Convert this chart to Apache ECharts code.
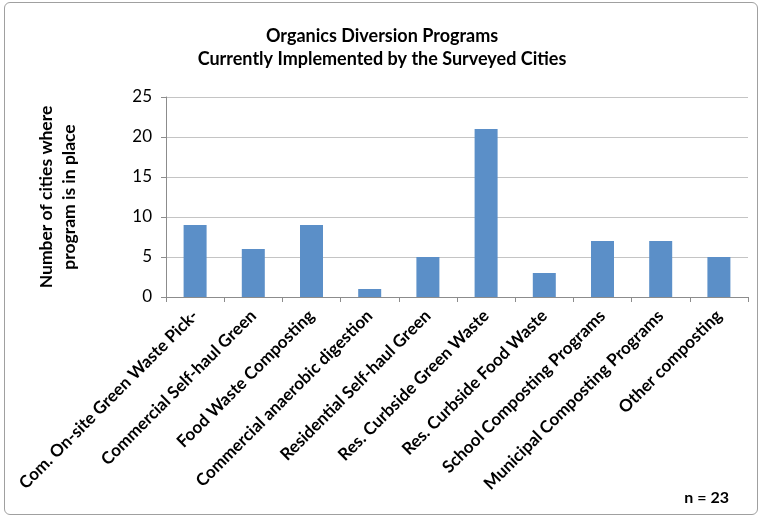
<!DOCTYPE html>
<html>
<head>
<meta charset="utf-8">
<style>
  html, body { margin: 0; padding: 0; background: #fff; }
  #frame { position: absolute; left: 4px; top: 2px; width: 754px; height: 513px;
           border: 1.5px solid #a0a0a0; border-radius: 6px; box-sizing: border-box; }
  #chart { width: 764px; height: 519px; }
</style>
<script src="https://cdn.jsdelivr.net/npm/echarts@6/dist/echarts.min.js"></script>
</head>
<body>
<div id="frame"></div>
<div id="chart"></div>
<script>
// Organics diversion programs in place across surveyed cities
const programs = [
  'Com. On-site Green Waste Pick-',
  'Commercial Self-haul Green',
  'Food Waste Composting',
  'Commercial anaerobic digestion',
  'Residential Self-haul Green',
  'Res. Curbside Green Waste',
  'Res. Curbside Food Waste',
  'School Composting Programs',
  'Municipal Composting Programs',
  'Other composting'
];
const cityCounts = [9, 6, 9, 1, 5, 21, 3, 7, 7, 5];
const titleLines = ['Organics Diversion Programs', 'Currently Implemented by the Surveyed Cities'];
const yAxisTitle = 'Number of cities where\nprogram is in place';
const sampleNote = 'n = 23';

const font = 'Lato, "Open Sans", sans-serif';
const chart = echarts.init(document.getElementById('chart'));
chart.setOption({
  animation: false,
  title: {
    text: titleLines.join('\n'),
    left: 'center',
    top: 20,
    textStyle: { fontFamily: font, fontSize: 18, fontWeight: 'bold', color: '#000', lineHeight: 23 }
  },
  graphic: [{
    type: 'text',
    right: 35,
    top: 490,
    style: { text: sampleNote, fontFamily: font, fontSize: 16, fontWeight: 'bold', fill: '#000' }
  }],
  grid: { left: 166, right: 16, top: 97, bottom: 222, containLabel: false },
  xAxis: {
    type: 'category',
    data: programs,
    axisLine: { lineStyle: { color: '#8c8c8c', width: 1 } },
    axisTick: { show: true, length: 5, lineStyle: { color: '#8c8c8c' } },
    axisLabel: {
      interval: 0, rotate: 45, margin: 16,
      fontFamily: font, fontSize: 17, fontWeight: 'bold', color: '#000'
    }
  },
  yAxis: {
    type: 'value',
    min: 0, max: 25, interval: 5,
    name: yAxisTitle,
    nameLocation: 'middle',
    nameRotate: 90,
    nameGap: 85,
    nameTextStyle: { fontFamily: font, fontSize: 17.5, fontWeight: 'bold', color: '#000', lineHeight: 23 },
    axisLine: { show: true, lineStyle: { color: '#8c8c8c', width: 1 } },
    axisTick: { show: true, length: 5, lineStyle: { color: '#8c8c8c' } },
    splitLine: { lineStyle: { color: '#c4c4c4', width: 1 } },
    axisLabel: { margin: 14, fontFamily: font, fontSize: 17, color: '#000' }
  },
  series: [{
    type: 'bar',
    data: cityCounts,
    barWidth: 23,
    itemStyle: { color: '#5b8fc8' }
  }]
});
</script>
</body>
</html>
